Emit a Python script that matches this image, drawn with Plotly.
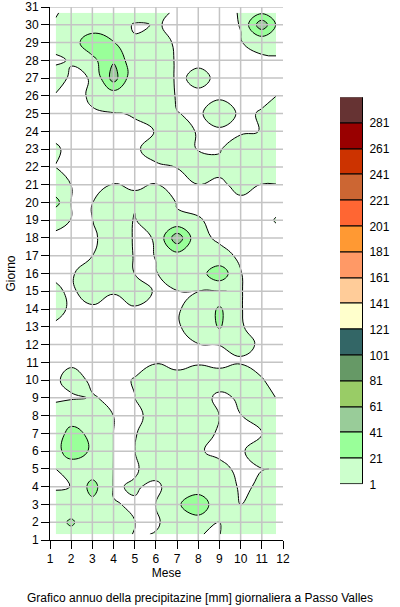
import plotly.graph_objects as go

# grid positions of the measured values (months across, days up)
month_pos = [1.27, 2, 3, 4, 5, 6, 7, 8, 9, 10, 11, 11.67]
day_pos = [1.32, 2, 3, 4, 5, 6, 7, 8, 9, 10, 11, 12, 13, 14, 15, 16, 17, 18, 19, 20,
           21, 22, 23, 24, 25, 26, 27, 28, 29, 30, 30.68]

# daily precipitation [mm]; one row per day (1..31), one column per month (1..12)
precip = [
    [5, 14.5, 5, 5, 0.5, 1.2, 8, 1.07, 0.8, 6, 6, 6],            # 1
    [13.3, 24, 6, 5, 1.05, 0.5, 3, 11.7, 0.95, 6, 6, 6],         # 2
    [5, 8, 15.5, 1.3, 0.5, 1.05, 18, 35, 7, 0.9, 6, 6],          # 3
    [0, 1.1, 28, 0.5, 1.5, 0, 3.7, 10, 5.9, 0, 1.85, 5],         # 4
    [0.95, 7.5, 10, 0.9, 0.5, 3, 10, 10, 2.2, 0, 0.9, 1.1],      # 5
    [13.7, 32, 18, 0.9, 0.9, 8, 10, 1.43, 0, 0, 5, 6],           # 6
    [10.9, 28, 16, 0.9, 0.5, 5, 10, 4.5, 0, 0, 0.95, 5],         # 7
    [4, 10, 10, 0.9, 0, 2.5, 10, 8, 0.9, 0.9, 6, 5],             # 8
    [0, 0, 1.4, 0, 0.95, 10, 10, 2.9, 0, 1.6, 6, 0.9],           # 9
    [0, 3.4, 0, 0, 1.2, 12, 2.3, 6.7, 3, 10, 1.2, 0],            # 10
    [0, 0, 0, 0, 0, 0, 0, 0, 0, 0, 0, 0],                        # 11
    [0, 0, 0, 0, 0, 0, 0, 0.84, 1.05, 3, 0, 0],                  # 12
    [0, 0, 0, 0, 0, 0, 0.3, 4, 23, 1.2, 0, 0],                   # 13
    [3, 0, 0, 0, 0, 0, 0.3, 4, 24, 1.1, 0, 0],                   # 14
    [2, 0, 4, 1.2, 6, 0, 0.9, 0.95, 0.95, 1.1, 0, 0],            # 15
    [0, 0, 6, 12, 0.8, 0.8, 3.3, 11.7, 35, 1.1, 0, 0],           # 16
    [0, 0, 0.95, 12, 0, 1.1, 12.5, 8, 3, 0, 0, 0],               # 17
    [0, 0, 0, 4, 0.6, 1.1, 55, 2.7, 0, 0, 0, 0],                 # 18
    [2.5, 0.9, 0.9, 8, 0.33, 8.7, 2, 1.3, 0, 0, 0, 1.2],         # 19
    [28, 0.8, 0.8, 8, 2, 8, 0.5, 0, 0, 0, 0, 0],                 # 20
    [6, 0.9, 0, 1.05, 0.5, 1.05, 0, 0.9, 0, 2.5, 0.8, 0.9],      # 21
    [0.9, 0, 0, 0, 0, 0, 1.1, 8, 2.5, 8, 6, 4],                  # 22
    [1.5, 0, 0, 0, 0, 3.7, 1.5, 0.9, 0.5, 5, 5, 6],              # 23
    [0, 0, 0, 0, 0, 1.11, 6.3, 0, 0, 0, 1.2, 5],                 # 24
    [0, 0, 0.75, 0.6, 1.4, 8, 1.2, 0, 4.5, 0, 1.4, 6],           # 25
    [0.5, 0, 1.43, 8.6, 5, 10, 0, 0, 0, 0, 0, 0.9],              # 26
    [3.7, 0, 1.28, 50, 4, 6.7, 0, 2.3, 0, 0, 0, 0],              # 27
    [0, 1.5, 15.6, 39, 6, 6.7, 0, 0, 0, 0, 0, 0],                # 28
    [3, 11, 35, 22, 2, 4, 0, 0, 0, 0.8, 3, 4],                   # 29
    [1.7, 6, 8, 6.7, 0, 1.4, 0, 0, 0, 1.1, 55, 20],              # 30
    [0.5, 3, 5, 6, 7, 2.9, 0, 0, 0, 1.2, 18, 8],                 # 31
]

levels = [1, 21, 41, 61, 81, 101, 121, 141, 161, 181, 201, 221, 241, 261, 281, 301]
level_colors = ["#CCFFCC", "#99FF99", "#99CC99", "#99CC66", "#669966", "#336666",
                "#FFFFCC", "#FFCC99", "#FF9966", "#FF9933", "#FF6633", "#CC6633",
                "#CC3300", "#990000", "#663333"]
level_labels = [str(v) for v in levels[:-1]]

month_ticks = [1, 2, 3, 4, 5, 6, 7, 8, 9, 10, 11, 12]
day_ticks = list(range(1, 32))
right_ticks = [5, 10, 15, 20, 25, 30]
top_ticks = [5, 10]

x_title = "Mese"
y_title = "Giorno"
chart_title = "Grafico annuo della precipitazine [mm] giornaliera a Passo Valles"

FONT = "Liberation Sans, Arial, sans-serif"
W, H = 400, 607

n = len(level_colors)
colorscale = [[0, "#FFFFFF"]] + [[(k + 1) / n, c] for k, c in enumerate(level_colors)]

fig = go.Figure()
fig.add_trace(go.Contour(
    x=month_pos, y=day_pos, z=precip,
    autocontour=False,
    contours=dict(start=levels[0], end=levels[-2], size=levels[1] - levels[0],
                  coloring="fill", showlines=True),
    colorscale=colorscale, showscale=False,
    line=dict(color="black", width=1, smoothing=1.3),
    hoverinfo="skip",
))

# legend colour boxes
fig.add_trace(go.Bar(
    x=[0] * n, y=[levels[i + 1] - levels[i] for i in range(n)], base=levels[:-1],
    width=1, marker=dict(color=level_colors, line=dict(color="black", width=1)),
    xaxis="x3", yaxis="y3", showlegend=False, hoverinfo="skip",
))

# plot area in pixels
px_l, px_r, py_t, py_b = 50, 283, 7, 540
xd = [px_l / W, px_r / W]
yd = [1 - py_b / H, 1 - py_t / H]
cb_x = [340 / W, 363 / W]
cb_y = [1 - 484.3 / H, 1 - 97.3 / H]

tickfont = dict(family=FONT, size=12, color="black")
fig.update_layout(
    width=W, height=H, margin=dict(l=0, r=0, t=0, b=0, autoexpand=False),
    paper_bgcolor="white", plot_bgcolor="white", showlegend=False,
    font=dict(family=FONT, size=12, color="black"),
    title=dict(text=chart_title, x=0.5, xanchor="center", xref="paper",
               y=1 - 598 / H, yanchor="middle", yref="paper",
               font=dict(family=FONT, size=12, color="black")),
    xaxis=dict(domain=xd, range=[1, 12], tickmode="array", tickvals=month_ticks,
               ticks="outside", ticklen=8, tickcolor="black", showline=True,
               linecolor="black", linewidth=1, showgrid=False, zeroline=False,
               tickfont=tickfont, anchor="y", fixedrange=True,
               title=dict(text=x_title, standoff=3,
                          font=dict(family=FONT, size=12, color="black"))),
    yaxis=dict(domain=yd, range=[1, 31], tickmode="array", tickvals=day_ticks,
               ticks="outside", ticklen=8, tickcolor="black", showline=True,
               linecolor="black", linewidth=1, showgrid=False, zeroline=False,
               tickfont=tickfont, anchor="x", fixedrange=True,
               title=dict(text=y_title, standoff=7,
                          font=dict(family=FONT, size=12, color="black"))),
    xaxis2=dict(overlaying="x", side="top", range=[1, 12], tickmode="array",
                tickvals=top_ticks, ticks="outside", ticklen=8, tickcolor="black",
                showticklabels=False, showline=False, showgrid=False, zeroline=False,
                anchor="y"),
    yaxis2=dict(overlaying="y", side="right", range=[1, 31], tickmode="array",
                tickvals=right_ticks, ticks="outside", ticklen=8, tickcolor="black",
                showticklabels=False, showline=True, linecolor="black", linewidth=1,
                showgrid=False, zeroline=False, anchor="x"),
    xaxis3=dict(domain=cb_x, range=[-0.5, 0.5], anchor="y3", showticklabels=False,
                showline=False, showgrid=False, zeroline=False, ticks=""),
    yaxis3=dict(domain=cb_y, range=[levels[0], levels[-1]], anchor="x3", side="right",
                tickmode="array", tickvals=levels[:-1], ticktext=level_labels,
                ticks="outside", ticklen=3, tickcolor="rgba(0,0,0,0)",
                showline=False, showgrid=False, zeroline=False, tickfont=tickfont),
    bargap=0,
)

# grid drawn over the filled contours
shapes = []
for m in month_ticks[1:-1]:
    shapes.append(dict(type="line", xref="x", yref="y", x0=m, x1=m, y0=day_ticks[0],
                       y1=day_ticks[-1], layer="above",
                       line=dict(color="#C4C4C4", width=1.5)))
for d in day_ticks[1:]:
    shapes.append(dict(type="line", xref="x", yref="y", x0=month_ticks[0],
                       x1=month_ticks[-1], y0=d, y1=d, layer="above",
                       line=dict(color="#C4C4C4", width=1.5)))
fig.update_layout(shapes=shapes)

fig.write_html("out.html")
